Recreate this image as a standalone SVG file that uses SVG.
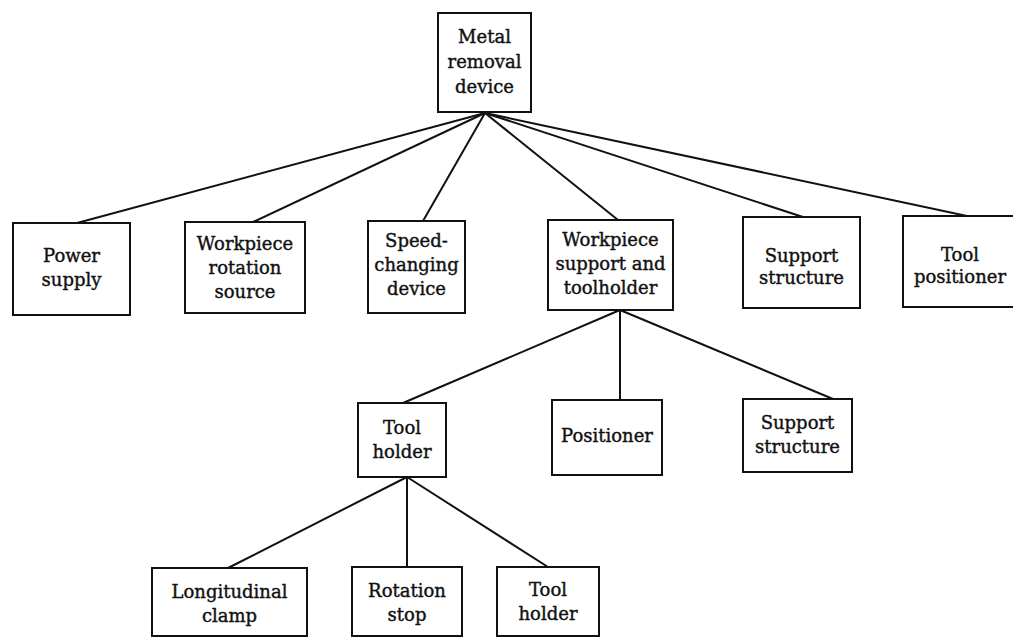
<svg xmlns="http://www.w3.org/2000/svg" width="1013" height="638" viewBox="0 0 1013 638">
<style>
.box{fill:#fff;stroke:#111;stroke-width:2}
.lbl{font-size:18px;fill:#111;stroke:#111;stroke-width:0.4;text-anchor:middle}
.con line{stroke:#111;stroke-width:2;stroke-linecap:round}
</style>
<rect width="1013" height="638" fill="#fff"/>
<g id="connectors" class="con">
<line x1="485" y1="113" x2="77" y2="223"/>
<line x1="485" y1="113" x2="253" y2="222"/>
<line x1="485" y1="113" x2="423" y2="221"/>
<line x1="485" y1="113" x2="618" y2="220"/>
<line x1="485" y1="113" x2="803" y2="217"/>
<line x1="485" y1="113" x2="967" y2="216"/>
<line x1="620" y1="310" x2="403" y2="403"/>
<line x1="620" y1="310" x2="620" y2="400"/>
<line x1="620" y1="310" x2="833" y2="399"/>
<line x1="407" y1="477" x2="228" y2="568"/>
<line x1="407" y1="477" x2="407" y2="567"/>
<line x1="407" y1="477" x2="548" y2="567"/>
</g>
<g id="nodes" font-family="'DejaVu Serif', 'Liberation Serif', serif">
<g id="metal-removal-device">
<rect class="box" x="438" y="13" width="93" height="99"/>
<text class="lbl" x="484.5" y="43">Metal</text>
<text class="lbl" x="484.5" y="68">removal</text>
<text class="lbl" x="484.5" y="93">device</text>
</g>
<g id="power-supply">
<rect class="box" x="13" y="223" width="117" height="92"/>
<text class="lbl" x="71.5" y="262">Power</text>
<text class="lbl" x="71.5" y="286">supply</text>
</g>
<g id="workpiece-rotation-source">
<rect class="box" x="185" y="222" width="120" height="91"/>
<text class="lbl" x="245" y="250">Workpiece</text>
<text class="lbl" x="245" y="274">rotation</text>
<text class="lbl" x="245" y="298">source</text>
</g>
<g id="speed-changing-device">
<rect class="box" x="368" y="221" width="97" height="92"/>
<text class="lbl" x="416.5" y="247">Speed-</text>
<text class="lbl" x="416.5" y="271">changing</text>
<text class="lbl" x="416.5" y="295">device</text>
</g>
<g id="workpiece-support-toolholder">
<rect class="box" x="548" y="220" width="125" height="90"/>
<text class="lbl" x="610.5" y="246">Workpiece</text>
<text class="lbl" x="610.5" y="270">support  and</text>
<text class="lbl" x="610.5" y="294">toolholder</text>
</g>
<g id="support-structure-1">
<rect class="box" x="743" y="217" width="117" height="91"/>
<text class="lbl" x="801.5" y="262">Support</text>
<text class="lbl" x="801.5" y="284">structure</text>
</g>
<g id="tool-positioner">
<rect class="box" x="903" y="216" width="114" height="91"/>
<text class="lbl" x="960" y="261">Tool</text>
<text class="lbl" x="960" y="283">positioner</text>
</g>
<g id="tool-holder-1">
<rect class="box" x="358" y="403" width="88" height="74"/>
<text class="lbl" x="402" y="434">Tool</text>
<text class="lbl" x="402" y="458">holder</text>
</g>
<g id="positioner">
<rect class="box" x="552" y="400" width="110" height="75"/>
<text class="lbl" x="607" y="442">Positioner</text>
</g>
<g id="support-structure-2">
<rect class="box" x="743" y="399" width="109" height="73"/>
<text class="lbl" x="797.5" y="429">Support</text>
<text class="lbl" x="797.5" y="453">structure</text>
</g>
<g id="longitudinal-clamp">
<rect class="box" x="152" y="568" width="155" height="68"/>
<text class="lbl" x="229.5" y="598">Longitudinal</text>
<text class="lbl" x="229.5" y="622">clamp</text>
</g>
<g id="rotation-stop">
<rect class="box" x="352" y="567" width="110" height="69"/>
<text class="lbl" x="407" y="597">Rotation</text>
<text class="lbl" x="407" y="621">stop</text>
</g>
<g id="tool-holder-2">
<rect class="box" x="497" y="567" width="102" height="69"/>
<text class="lbl" x="548" y="596">Tool</text>
<text class="lbl" x="548" y="620">holder</text>
</g>
</g>
</svg>
